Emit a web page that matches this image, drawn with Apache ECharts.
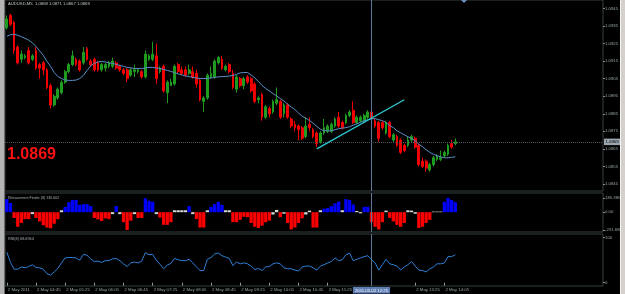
<!DOCTYPE html>
<html>
<head>
<meta charset="utf-8">
<script src="https://cdn.jsdelivr.net/npm/echarts@6/dist/echarts.min.js"></script>
<style>
html, body { margin: 0; padding: 0; background: #000; }
#wrap { position: relative; width: 625px; height: 294px; background: #000; overflow: hidden; }
#chart { position: absolute; left: 0; top: 0; width: 625px; height: 294px; }
.side { position: absolute; top: 0; height: 294px; }
</style>
</head>
<body>
<div id="wrap">
  <div id="chart"></div>
  <div class="side" style="left:0;width:4px;background:#b4b4b4;border-right:1px solid #6a6a6a"></div>
  <div class="side" style="left:620px;width:4px;background:#d4d1cc;border-left:1px solid #f4f4f4"></div>
</div>
<script>
// AUDUSD M5, 2 May 2011 from 04:05, one row per bar: [open, high, low, close]
const candles = [
  [1.0934,1.0941,1.0933,1.0939],[1.0941,1.0942,1.0935,1.0936],[1.0937,1.0938,1.0919,1.0921],[1.0923,1.0924,1.0913,1.0914],
  [1.0916,1.0921,1.0914,1.0919],[1.0917,1.0919,1.0916,1.0918],[1.0921,1.0923,1.0913,1.0914],[1.0916,1.0919,1.0915,1.0918],
  [1.0921,1.0923,1.0910,1.0911],[1.0913,1.0914,1.0905,1.0911],[1.0914,1.0915,1.0907,1.0910],[1.0910,1.0911,1.0899,1.0900],
  [1.0901,1.0902,1.0888,1.0890],[1.0890,1.0896,1.0889,1.0895],[1.0894,1.0900,1.0893,1.0899],[1.0897,1.0904,1.0896,1.0903],
  [1.0903,1.0910,1.0902,1.0909],[1.0909,1.0914,1.0908,1.0913],[1.0913,1.0921,1.0912,1.0918],[1.0916,1.0917,1.0912,1.0913],
  [1.0915,1.0916,1.0909,1.0910],[1.0914,1.0923,1.0913,1.0920],[1.0922,1.0923,1.0915,1.0916],[1.0915,1.0916,1.0912,1.0913],
  [1.0916,1.0917,1.0909,1.0910],[1.0914,1.0915,1.0909,1.0910],[1.0910,1.0914,1.0909,1.0913],[1.0911,1.0914,1.0909,1.0913],
  [1.0912,1.0915,1.0911,1.0914],[1.0912,1.0917,1.0911,1.0915],[1.0914,1.0915,1.0910,1.0911],[1.0912,1.0913,1.0909,1.0910],
  [1.0910,1.0911,1.0907,1.0908],[1.0910,1.0911,1.0903,1.0905],[1.0907,1.0911,1.0906,1.0910],[1.0909,1.0913,1.0906,1.0910],
  [1.0909,1.0911,1.0908,1.0910],[1.0909,1.0910,1.0905,1.0906],[1.0906,1.0921,1.0905,1.0919],[1.0916,1.0919,1.0915,1.0918],
  [1.0916,1.0926,1.0915,1.0919],[1.0918,1.0925,1.0902,1.0905],[1.0909,1.0912,1.0908,1.0911],[1.0912,1.0913,1.0897,1.0898],
  [1.0897,1.0904,1.0891,1.0903],[1.0901,1.0905,1.0901,1.0903],[1.0902,1.0913,1.0901,1.0912],[1.0913,1.0914,1.0908,1.0909],
  [1.0910,1.0912,1.0907,1.0908],[1.0910,1.0912,1.0906,1.0907],[1.0908,1.0913,1.0907,1.0910],[1.0909,1.0912,1.0905,1.0906],
  [1.0908,1.0910,1.0900,1.0902],[1.0904,1.0905,1.0892,1.0893],[1.0892,1.0895,1.0886,1.0894],[1.0894,1.0908,1.0893,1.0907],
  [1.0906,1.0912,1.0905,1.0908],[1.0906,1.0916,1.0905,1.0915],[1.0914,1.0918,1.0913,1.0917],[1.0916,1.0918,1.0910,1.0911],
  [1.0910,1.0913,1.0909,1.0912],[1.0913,1.0914,1.0908,1.0909],[1.0908,1.0910,1.0899,1.0900],[1.0899,1.0907,1.0897,1.0906],
  [1.0905,1.0906,1.0900,1.0901],[1.0901,1.0906,1.0899,1.0905],[1.0906,1.0907,1.0902,1.0903],[1.0905,1.0906,1.0897,1.0898],
  [1.0902,1.0903,1.0891,1.0892],[1.0893,1.0895,1.0891,1.0894],[1.0896,1.0897,1.0881,1.0883],[1.0883,1.0890,1.0882,1.0889],
  [1.0888,1.0889,1.0883,1.0885],[1.0886,1.0893,1.0885,1.0892],[1.0891,1.0900,1.0890,1.0893],[1.0892,1.0893,1.0882,1.0883],
  [1.0885,1.0891,1.0883,1.0890],[1.0890,1.0891,1.0882,1.0883],[1.0882,1.0883,1.0877,1.0878],[1.0879,1.0881,1.0875,1.0877],
  [1.0878,1.0879,1.0870,1.0876],[1.0877,1.0878,1.0870,1.0871],[1.0872,1.0883,1.0871,1.0878],[1.0879,1.0883,1.0875,1.0877],
  [1.0876,1.0877,1.0871,1.0872],[1.0874,1.0875,1.0866,1.0868],[1.0869,1.0875,1.0868,1.0874],[1.0874,1.0882,1.0873,1.0877],
  [1.0875,1.0879,1.0874,1.0878],[1.0875,1.0880,1.0874,1.0879],[1.0878,1.0883,1.0877,1.0882],[1.0883,1.0886,1.0877,1.0878],
  [1.0880,1.0881,1.0876,1.0877],[1.0880,1.0885,1.0879,1.0884],[1.0884,1.0887,1.0883,1.0886],[1.0887,1.0892,1.0879,1.0880],
  [1.0880,1.0884,1.0879,1.0883],[1.0881,1.0884,1.0880,1.0883],[1.0881,1.0885,1.0880,1.0884],[1.0883,1.0887,1.0882,1.0886],
  [1.0886,1.0887,1.0881,1.0882],[1.0881,1.0882,1.0877,1.0878],[1.0880,1.0881,1.0869,1.0871],[1.0880,1.0881,1.0876,1.0877],
  [1.0874,1.0881,1.0873,1.0880],[1.0880,1.0881,1.0871,1.0872],[1.0870,1.0874,1.0869,1.0873],[1.0872,1.0873,1.0866,1.0867],
  [1.0870,1.0871,1.0862,1.0863],[1.0867,1.0868,1.0863,1.0864],[1.0867,1.0872,1.0866,1.0870],[1.0870,1.0873,1.0869,1.0872],
  [1.0871,1.0872,1.0865,1.0866],[1.0867,1.0868,1.0855,1.0856],[1.0858,1.0860,1.0854,1.0855],[1.0858,1.0859,1.0852,1.0854],
  [1.0853,1.0857,1.0852,1.0856],[1.0856,1.0861,1.0855,1.0860],[1.0859,1.0862,1.0858,1.0861],[1.0859,1.0864,1.0858,1.0860],
  [1.0861,1.0864,1.0860,1.0863],[1.0862,1.0868,1.0861,1.0867],[1.0868,1.0870,1.0865,1.0866],[1.0868,1.0871,1.0867,1.0869]
];

// moving average drawn over the candles
const maValues = [
  1.09291,1.09300,1.09303,1.09297,1.09289,1.09280,1.09269,1.09254,1.09234,1.09208,
  1.09183,1.09148,1.09120,1.09085,1.09062,1.09051,1.09042,1.09040,1.09040,1.09042,
  1.09051,1.09068,1.09097,1.09123,1.09137,1.09145,1.09148,1.09145,1.09140,1.09137,
  1.09131,1.09125,1.09120,1.09114,1.09111,1.09108,1.09108,1.09108,1.09111,1.09114,
  1.09114,1.09111,1.09108,1.09103,1.09097,1.09091,1.09085,1.09077,1.09071,1.09065,
  1.09062,1.09057,1.09054,1.09051,1.09051,1.09051,1.09054,1.09057,1.09060,1.09062,
  1.09062,1.09065,1.09068,1.09074,1.09083,1.09085,1.09085,1.09071,1.09054,1.09034,
  1.09011,1.08994,1.08980,1.08965,1.08951,1.08937,1.08922,1.08905,1.08888,1.08874,
  1.08854,1.08836,1.08825,1.08811,1.08796,1.08779,1.08762,1.08753,1.08753,1.08753,
  1.08759,1.08765,1.08768,1.08771,1.08776,1.08785,1.08793,1.08802,1.08811,1.08816,
  1.08822,1.08822,1.08816,1.08811,1.08799,1.08782,1.08771,1.08753,1.08742,1.08730,
  1.08719,1.08710,1.08696,1.08676,1.08662,1.08645,1.08630,1.08619,1.08610,1.08605,
  1.08599,1.08599,1.08602,1.08605
];

// Retracement Finder (8) histogram
const finderValues = [
  170,120,-75,-190,-140,-90,-90,-25,-75,-120,
  -170,-200,-210,-150,-90,25,70,130,160,160,
  95,105,105,80,-75,-95,-115,-80,-90,-25,
  80,-25,-130,-231.686,-110,-25,-75,-75,180,150,
  135,-25,-70,-165,-165,-130,25,25,25,25,
  80,-25,-90,-200,-200,25,70,105,135,95,
  25,25,-130,-130,-100,-60,-65,-140,-190,-205,
  -175,-130,-110,-30,30,-65,-20,-140,-225,-200,
  -140,-80,-30,20,-200,-200,25,45,55,80,
  115,140,25,170,160,100,15,-15,70,70,
  -130,-190,-225,-130,20,-75,-120,-165,-190,-140,
  25,20,-20,-205,-190,-140,-100,8,8,8,
  135,185.386,160,130.602
];

// RSI(8)
const rsiValues = [
  68,45,30,30,35,33,36,40,34,33, 30,20,17,24,32,44,55,56,56,55,
  50,63,61,53,47,48,45,49,49,53, 54,49,42,36,44,46,44,48,67,62,
  63,50,41,31,39,43,54,51,49,49, 52,44,35,27,27,52,56,64,66,60,
  57,54,38,46,42,44,42,37,29,32, 27,35,36,42,44,42,33,31,31,28,
  26,35,37,37,33,28,37,40,44,47, 55,49,51,62,66,49,52,55,58,60,
  51,44,28,40,52,42,40,37,28,35, 40,47,37,28,27,24,31,35,42,42,
  44,58,58,62
];

const priceTicks = [1.0845,1.0855,1.0865,1.0875,1.0885,1.0895,1.0905,1.0915,1.0925,1.0935,1.0945];
const finderTicks = [-231.686, 0, 185.386];
const rsiTicks = [0, 100];
const timeTicks = ['2 May 2011','2 May 04:45','2 May 05:25','2 May 06:05','2 May 06:45','2 May 07:25',
  '2 May 08:05','2 May 08:45','2 May 09:25','2 May 10:05','2 May 10:45','2 May 11:25',
  '2 May 12:05','2 May 12:45','2 May 13:25','2 May 14:05'];
const bidPrice = 1.0869;
const crossBar = 100;              // crosshair sits on the 12:25 bar
const crossLabel = '2011.05.02 12:25';
const trendLine = [[85, 1.0865], [109, 1.0893]];

// category slots: the bars plus the empty chart-shift space to the right
const slots = 164;
const pad = v => (v < 10 ? '0' : '') + v;
const cats = [];
for (let i = 0; i < slots; i++) {
  const m = 4 * 60 + 5 + 5 * i;
  cats.push(pad(Math.floor(m / 60)) + ':' + pad(m % 60));
}
const nBars = candles.length;

const FONT = 'Liberation Sans';
const small = { fontSize: 4.3, color: '#9aa6a6', fontFamily: FONT };
const border = '#34403f';
const up = '#1f9c1f', down = '#f00000';

const finderColor = v => (Math.abs(v) < 40 ? '#d8d8d8' : v > 0 ? '#0000ff' : '#ff0000');

const chart = echarts.init(document.getElementById('chart'));
const gridBase = { left: 5, width: 598, show: true, borderColor: border, borderWidth: 1, backgroundColor: 'transparent' };
const xBase = (gi) => ({
  type: 'category', gridIndex: gi, data: cats, boundaryGap: true,
  axisLine: { show: false }, axisTick: { show: false }, axisLabel: { show: false }, splitLine: { show: false }
});
const yBase = (gi, min, max, ticks, fmt) => ({
  type: 'value', gridIndex: gi, position: 'right', min: min, max: max,
  splitLine: { show: false }, axisLine: { show: false },
  axisTick: { show: true, length: 2, customValues: ticks, lineStyle: { color: '#7f8b8b' } },
  axisLabel: Object.assign({ customValues: ticks, formatter: fmt, margin: 2 }, small)
});
const showTime = i => i % 8 === 0 && i < nBars && Math.abs(i - crossBar) > 6;
const vLine = (withLabel) => ({
  xAxis: cats[crossBar],
  lineStyle: { color: '#5b7896', type: 'solid', width: 1 },
  label: withLabel ? {
    show: true, position: 'start', distance: 1, formatter: crossLabel,
    backgroundColor: '#5d7cb4', color: '#ffffff', padding: [1.5, 2, 1, 2],
    fontSize: 4.3, fontFamily: FONT
  } : { show: false }
});

chart.setOption({
  backgroundColor: '#000000',
  animation: false,
  title: [
    { text: 'AUDUSD,M5  1.0868 1.0871 1.0867 1.0869', left: 8, top: 2, padding: 0,
      textStyle: { color: '#c4caca', fontSize: 4.2, fontWeight: 'normal', fontFamily: FONT } },
    { text: '1.0869', left: 7, top: 147, padding: 0,
      textStyle: { color: '#ff1111', fontSize: 16, fontWeight: 'bold', fontFamily: FONT } },
    { text: 'Retracement Finder (8) 130.602', left: 8, top: 196, padding: 0,
      textStyle: { color: '#aab4b4', fontSize: 3.6, fontWeight: 'normal', fontFamily: FONT } },
    { text: 'RSI(8) 68.6964', left: 8, top: 237, padding: 0,
      textStyle: { color: '#aab4b4', fontSize: 3.8, fontWeight: 'normal', fontFamily: FONT } }
  ],
  graphic: [
    { type: 'polygon', shape: { points: [[461, 0], [467, 0], [464, 3]] }, style: { fill: '#6c90c4' } }
  ],
  grid: [
    Object.assign({ top: 0, height: 191 }, gridBase),
    Object.assign({ top: 193, height: 39 }, gridBase),
    Object.assign({ top: 234, height: 52 }, gridBase)
  ],
  xAxis: [
    xBase(0), xBase(1),
    Object.assign(xBase(2), {
      axisTick: { show: true, alignWithLabel: true, length: 3, interval: showTime, lineStyle: { color: '#8f9a9a' } },
      axisLabel: Object.assign({
        show: true, interval: showTime, align: 'left', margin: 2, padding: [0, 0, 0, 1],
        formatter: (v, i) => timeTicks[i / 8] || ''
      }, small)
    })
  ],
  yAxis: [
    yBase(0, 1.08410, 1.09498, priceTicks, v => v.toFixed(4)),
    yBase(1, -258, 250, finderTicks, v => (v === 0 ? '0.00' : v.toFixed(3))),
    yBase(2, -7.3, 108.2, rsiTicks, v => String(v))
  ],
  series: [
    {
      type: 'candlestick', xAxisIndex: 0, yAxisIndex: 0, barWidth: '62%',
      data: candles.map(c => [c[0], c[3], c[2], c[1]]),
      itemStyle: { color: up, color0: down, borderColor: up, borderColor0: down, borderWidth: 1 },
      markLine: { silent: true, symbol: ['none', 'none'], data: [vLine(false)] }
    },
    {
      type: 'line', xAxisIndex: 0, yAxisIndex: 0, data: maValues,
      showSymbol: false, lineStyle: { color: '#5a8ec6', width: 1 },
      markLine: {
        silent: true, symbol: ['none', 'none'], precision: 5,
        data: [
          {
            yAxis: bidPrice,
            lineStyle: { color: '#4a5660', type: 'dotted', width: 1 },
            label: {
              show: true, position: 'end', distance: 1, formatter: bidPrice.toFixed(4),
              backgroundColor: '#9aa6b0', color: '#000000', padding: [1.5, 1.5, 1, 1.5],
              fontSize: 4.3, fontFamily: FONT
            }
          },
          [
            { coord: [cats[trendLine[0][0]], trendLine[0][1]],
              lineStyle: { color: '#2bcad2', width: 1.3, type: 'solid' }, label: { show: false } },
            { coord: [cats[trendLine[1][0]], trendLine[1][1]] }
          ]
        ]
      }
    },
    {
      type: 'bar', xAxisIndex: 1, yAxisIndex: 1, barWidth: '90%',
      data: finderValues.map(v => ({ value: v, itemStyle: { color: finderColor(v) } })),
      markLine: { silent: true, symbol: ['none', 'none'], data: [vLine(false)] }
    },
    {
      type: 'line', xAxisIndex: 2, yAxisIndex: 2, data: rsiValues,
      showSymbol: false, lineStyle: { color: '#2d80d8', width: 1 },
      markLine: { silent: true, symbol: ['none', 'none'], data: [vLine(true)] }
    }
  ]
});
</script>
</body>
</html>
